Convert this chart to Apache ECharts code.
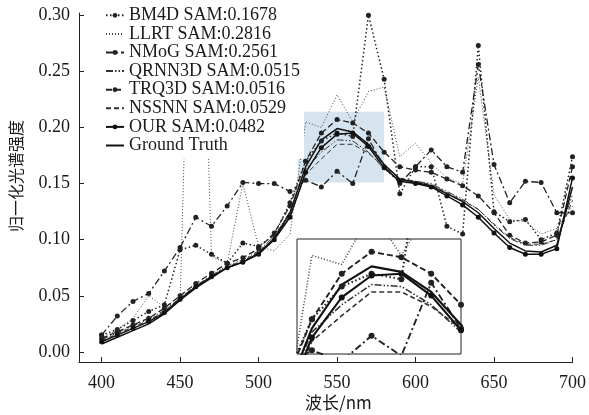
<!DOCTYPE html>
<html><head><meta charset="utf-8">
<script src="https://cdn.jsdelivr.net/npm/echarts@6/dist/echarts.min.js"></script>
<style>html,body{margin:0;padding:0;background:#fff}#c{width:589px;height:415px}</style>
</head><body><div id="c"></div>
<script>
const wavelengths = [400,410,420,430,440,450,460,470,480,490,500,510,520,530,540,550,560,570,580,590,600,610,620,630,640,650,660,670,680,690,700];
const xTicks = [400,450,500,550,600,650,700];
const yTicks = [0,0.05,0.1,0.15,0.2,0.25,0.3];

const bm4d  = [0.015,0.020,0.028,0.036,0.042,0.091,0.095,0.087,0.079,0.097,0.094,0.104,0.133,0.170,0.188,0.195,0.192,0.300,0.243,0.141,0.165,0.165,0.112,0.105,0.273,0.125,0.116,0.118,0.100,0.106,0.174];
const llrt  = [0.012,0.020,0.030,0.050,0.040,0.045,0.550,0.085,0.079,0.150,0.094,0.090,0.105,0.205,0.200,0.229,0.205,0.232,0.236,0.174,0.186,0.168,0.155,0.150,0.245,0.140,0.118,0.116,0.105,0.110,0.130];
const nmog  = [0.015,0.032,0.045,0.052,0.072,0.093,0.120,0.112,0.130,0.151,0.150,0.150,0.143,0.153,0.147,0.161,0.150,0.190,0.165,0.150,0.165,0.180,0.165,0.160,0.256,0.167,0.133,0.152,0.151,0.124,0.124];
const qrnn3d= [0.011,0.017,0.023,0.029,0.037,0.048,0.059,0.068,0.077,0.082,0.090,0.103,0.125,0.163,0.178,0.189,0.188,0.178,0.163,0.153,0.152,0.150,0.143,0.136,0.127,0.113,0.101,0.095,0.095,0.100,0.140];
const trq3d = [0.012,0.018,0.024,0.030,0.039,0.050,0.061,0.070,0.079,0.084,0.092,0.106,0.130,0.170,0.195,0.207,0.204,0.195,0.178,0.165,0.162,0.160,0.154,0.148,0.139,0.124,0.104,0.097,0.098,0.104,0.165];
const nssnn = [0.010,0.016,0.022,0.028,0.036,0.048,0.058,0.067,0.076,0.081,0.089,0.101,0.121,0.158,0.172,0.185,0.185,0.177,0.165,0.155,0.152,0.149,0.142,0.135,0.127,0.114,0.102,0.096,0.096,0.100,0.135];
const our   = [0.009,0.015,0.021,0.027,0.035,0.047,0.058,0.067,0.075,0.080,0.087,0.100,0.120,0.160,0.182,0.194,0.195,0.183,0.164,0.152,0.150,0.147,0.139,0.131,0.120,0.106,0.093,0.087,0.087,0.092,0.155];
const gt    = [0.007,0.013,0.019,0.025,0.034,0.046,0.057,0.066,0.075,0.080,0.088,0.101,0.124,0.165,0.189,0.199,0.196,0.185,0.167,0.154,0.151,0.148,0.141,0.134,0.124,0.110,0.097,0.090,0.089,0.095,0.147];

const names = ['BM4D SAM:0.1678','LLRT SAM:0.2816','NMoG SAM:0.2561','QRNN3D SAM:0.0515','TRQ3D SAM:0.0516','NSSNN SAM:0.0529','OUR SAM:0.0482','Ground Truth'];
const values = [bm4d, llrt, nmog, qrnn3d, trq3d, nssnn, our, gt];
const styles = [
  {type:[1.5,2.5], width:1.5, color:'#222', marker:true},
  {type:[1,2], width:1, color:'#444', marker:false},
  {type:[7,3,2,3], width:1.3, color:'#222', marker:true},
  {type:[7,2,1.5,2,1.5,2], width:1, color:'#333', marker:false},
  {type:[6,3], width:1.3, color:'#222', marker:true},
  {type:[5,3], width:1, color:'#333', marker:false},
  {type:'solid', width:1.5, color:'#111', marker:true},
  {type:'solid', width:1.5, color:'#111', marker:false}
];

const serif = "'Liberation Serif','Times New Roman',serif";
const series = [];
series.push({type:'line', data:[], xAxisIndex:0, yAxisIndex:0, z:1, silent:true,
  markArea:{silent:true, itemStyle:{color:'#d6e4ef'}, data:[[{xAxis:525, yAxis:0.151},{xAxis:580, yAxis:0.214}]]}});
names.forEach((n,i)=>{
  const s = styles[i];
  const d = wavelengths.map((w,j)=>[w, values[i][j]]);
  series.push({name:n, type:'line', data:d, xAxisIndex:0, yAxisIndex:0, z:3,
    symbol: s.marker?'circle':'none', symbolSize:5, showSymbol:s.marker,
    itemStyle:{color:s.color}, lineStyle:{type:s.type, width:s.width, color:s.color}, animation:false});
  series.push({name:n, type:'line', data:d, xAxisIndex:1, yAxisIndex:1, z:5, clip:true,
    symbol: s.marker?'circle':'none', symbolSize:6, showSymbol:s.marker,
    itemStyle:{color:s.color}, lineStyle:{type:s.type, width:s.width+0.6, color:s.color}, animation:false});
});

const legendData = names.map((n,i)=> styles[i].marker ? {name:n} :
  {name:n, itemStyle:{color:'rgba(0,0,0,0)', borderColor:'rgba(0,0,0,0)', borderWidth:0}});

const chart = echarts.init(document.getElementById('c'), null, {renderer:'canvas'});
chart.setOption({
  animation:false,
  backgroundColor:'#fff',
  grid:[
    {left:79, top:13, width:496, height:349},
    {left:297, top:239, width:164, height:115, show:true, borderColor:'#222', borderWidth:1, backgroundColor:'#fff', z:4}
  ],
  xAxis:[
    {type:'value', gridIndex:0, min:385.6, max:700, splitLine:{show:false},
     axisLine:{onZero:false, lineStyle:{color:'#222', width:1}},
     axisTick:{inside:true, length:5, customValues:xTicks, lineStyle:{color:'#222'}},
     axisLabel:{customValues:xTicks, margin:12, fontFamily:serif, fontSize:18, color:'#1a1a1a'}},
    {type:'value', gridIndex:1, min:525, max:580, show:false}
  ],
  yAxis:[
    {type:'value', gridIndex:0, min:-0.009, max:0.302, splitLine:{show:false},
     axisLine:{show:true, onZero:false, lineStyle:{color:'#222', width:1}},
     axisTick:{show:true, inside:true, length:5, customValues:yTicks, lineStyle:{color:'#222'}},
     axisLabel:{customValues:yTicks, margin:9, fontFamily:serif, fontSize:18, color:'#1a1a1a',
       formatter:v=>v.toFixed(2)}},
    {type:'value', gridIndex:1, min:0.151, max:0.214, show:false}
  ],
  legend:{
    data:legendData, orient:'vertical', left:103, top:4, itemGap:0, itemWidth:18, itemHeight:6,
    backgroundColor:'#fff', padding:[2,4,4,2], z:10,
    textStyle:{fontFamily:serif, fontSize:18, lineHeight:18.6, color:'#1a1a1a'}
  },
  graphic:[
    {type:'text', left:8, top:120, rotation:Math.PI/2, style:{text:'归一化光谱强度', font:"16px 'Noto Sans CJK SC'", fill:'#1a1a1a'}, z:20},
    {type:'text', left:305, top:394, style:{text:'波长/nm', font:"17px 'Noto Sans CJK SC'", fill:'#1a1a1a'}, z:20}
  ],
  series:series
});
</script></body></html>
